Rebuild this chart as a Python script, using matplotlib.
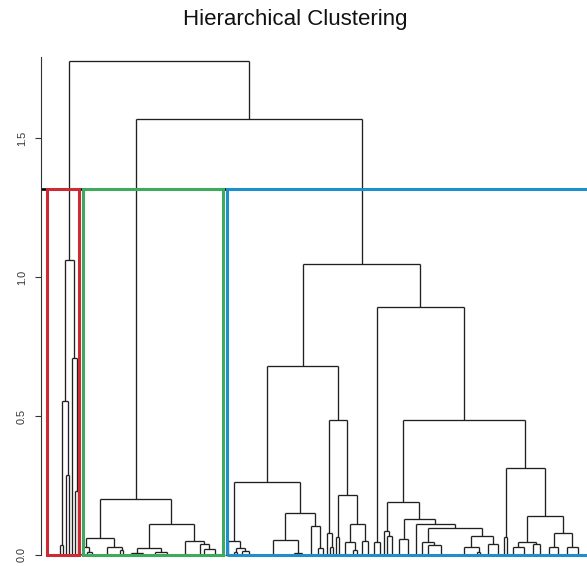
import matplotlib
matplotlib.use("Agg")
import matplotlib.pyplot as plt
from matplotlib.collections import LineCollection
from matplotlib.patches import Rectangle

# Dendrogram branches: [merge height, child, child, ...]
# an int child stands for that many single leaves joined at that node
red_tree = [1.062,
            [0.555, [0.035, 1, 1], [0.288, 1, 1]],
            [0.71, 1, [0.23, 1, 1]]]

green_left = [0.062,
              [0.03, [0.005, 1, 1], [0.012, 1, [0.0, 2]]],
              [0.03, [0.0, 8], [0.018, 1, 1]]]
green_right = [0.113,
               [0.024, [0.006, [0.0, 4], [0.0, 4]], [0.01, [0.0, 4], [0.0, 4]]],
               [0.05, [0.0, 8], [0.04, [0.0, 2], [0.02, 1, [0.0, 6]]]]]
green_tree = [0.202, green_left, green_right]

blue_b1_left = [0.263,
                [0.05, [0.0, 3], [0.024, [0.01, 1, 1], [0.015, [0.0, 2], [0.0, 3]]]],
                [0.15, [0.054, [0.0, 13], [0.008, 2, [0.0, 2]]],
                 [0.104, [0.0, 4], [0.025, 1, [0.0, 2]]]]]
blue_b1_right = [0.486,
                 [0.08, 1, [0.03, 1, 1]],
                 [0.216, [0.064, 1, 1],
                  [0.111, [0.045, [0.0, 3], [0.018, [0.0, 2], 1]],
                   [0.05, [0.0, 2], [0.0, 2]]]]]
blue_b2_left = [0.048, [0.0, 2], [0.0, 2]]
blue_b2_mid = [0.19,
               [0.086, 1, [0.068, 1, [0.0, 2]]],
               [0.128, [0.059, [0.0, 3], [0.0, 3]],
                [0.112, [0.0, 2],
                 [0.096, [0.048, [0.0, 2], [0.036, [0.0, 2], [0.0, 7]]],
                  [0.068, [0.03, [0.0, 8], [0.012, 1, 1]],
                   [0.04, [0.0, 4], [0.0, 3]]]]]]]
blue_b2_right = [0.312,
                 [0.064, 1, 1],
                 [0.141, [0.048, [0.03, [0.0, 3], [0.0, 4]], [0.04, [0.0, 2], [0.0, 3]]],
                  [0.078, [0.03, [0.0, 3], [0.0, 3]], [0.03, [0.0, 3], [0.0, 4]]]]]
blue_tree = [1.048,
             [0.681, blue_b1_left, blue_b1_right],
             [0.892, blue_b2_left, [0.486, blue_b2_mid, blue_b2_right]]]

top_heights = [1.776, 1.567]
cut_height = 1.318
cluster_colors = ["#CD2A34", "#3DAA5E", "#1F8FCB"]
y_ticks = [0.0, 0.5, 1.0, 1.5]


def count_leaves(node):
    if isinstance(node, int):
        return node
    return sum(count_leaves(c) for c in node[1:])


def layout(node, start, segs):
    """Place leaves from index `start`, collect line segments, return (x, h, next)."""
    kids = []
    for c in node[1:]:
        if isinstance(c, int):
            for _ in range(c):
                kids.append((start, 0.0))
                start += 1
        else:
            x, h, start = layout(c, start, segs)
            kids.append((x, h))
    h = node[0]
    segs.append([(kids[0][0], h), (kids[-1][0], h)])
    for kx, kh in kids:
        segs.append([(kx, h), (kx, kh)])
    return (kids[0][0] + kids[-1][0]) / 2, h, start


root = [top_heights[0], red_tree, [top_heights[1], green_tree, blue_tree]]
segments = []
layout(root, 0, segments)
n_leaves = count_leaves(root)

fig = plt.figure(figsize=(5.87, 5.66), dpi=100)
ax = fig.add_axes([41 / 587, 6 / 566, 546 / 587, 520 / 566])
ax.set_xlim(-19 / 3, n_leaves - 1 + 5 / 3)
ax.set_ylim(-0.018, 1.8525)

ax.axhline(cut_height, color="black", lw=1.9, zorder=1)
ax.add_collection(LineCollection(segments, colors="#202020", linewidths=0.95, zorder=2))

# boxes around the three clusters cut at cut_height
sizes = [count_leaves(red_tree), count_leaves(green_tree), count_leaves(blue_tree)]
pads = [(4.33, 0.33), (-0.67, 0.33), (-0.67, 2.5)]
first = 0
for size, (pl, pr), col in zip(sizes, pads, cluster_colors):
    x0 = first - pl
    x1 = first + size - 1 + pr
    ax.add_patch(Rectangle((x0, 0.0), x1 - x0, cut_height, fill=False,
                           edgecolor=col, lw=2.2, zorder=3, clip_on=True))
    first += size

for side in ["top", "right", "bottom"]:
    ax.spines[side].set_visible(False)
ax.spines["left"].set_bounds(0, 1.79)
ax.spines["left"].set_color("#333333")
ax.spines["left"].set_linewidth(0.8)
ax.set_xticks([])
ax.set_yticks(y_ticks)
ax.set_yticklabels([f"{t:.1f}" for t in y_ticks], fontsize=7.8,
                   family="Liberation Sans", color="#333333")
for lab in ax.get_yticklabels():
    lab.set_rotation(90)
    lab.set_va("center")
ax.tick_params(axis="y", length=4.3, width=0.8, color="#333333", pad=6)
ax.patch.set_visible(False)

fig.text(295 / 587, 1 - 19 / 566, "Hierarchical Clustering", ha="center",
         va="center", fontsize=16, family="Liberation Sans", color="#111111")

fig.savefig("out.png", dpi=100)
